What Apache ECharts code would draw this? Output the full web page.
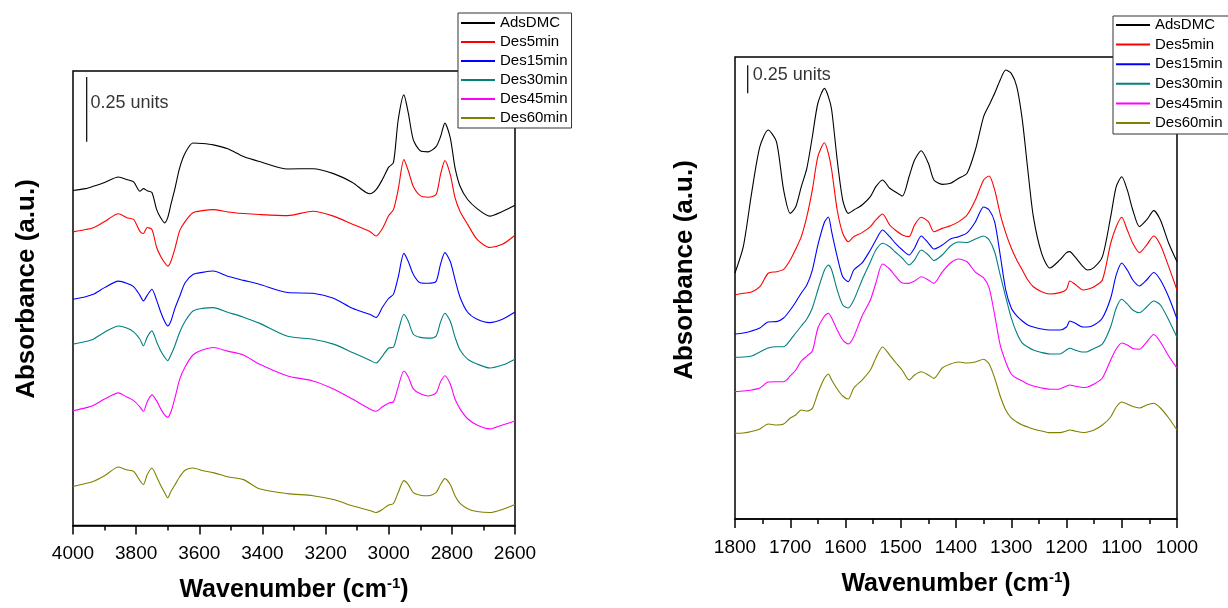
<!DOCTYPE html>
<html><head><meta charset="utf-8">
<script src="https://cdn.jsdelivr.net/npm/echarts@6/dist/echarts.min.js"></script>
<style>html,body{margin:0;padding:0;background:#fff}#c{width:1228px;height:608px}</style>
</head><body><div id="c"></div>
<script>
const FONT = '"Liberation Sans", Arial, sans-serif';
const seriesNames = ['AdsDMC','Des5min','Des15min','Des30min','Des45min','Des60min'];
const seriesColors = ['#000000','#ff0000','#0000ff','#008080','#ff00ff','#808000'];

// Left panel: O-H / C-H stretching region (cm-1), absorbance offsets (a.u.)
const ticksLeft = [4000,3800,3600,3400,3200,3000,2800,2600];
const waveLeft = [4000,3960,3936,3900,3856,3830,3808,3788,3777,3765,3750,3735,3722,3710,3700,3690,3678,3662,3645,3620,3590,3556,3510,3460,3410,3320,3240,3175,3115,3060,3040,3020,3000,2985,2970,2952,2938,2922,2900,2875,2850,2836,2822,2805,2790,2774,2750,2720,2680,2640,2600];
const leftAds = [1.293,1.300,1.309,1.324,1.345,1.335,1.326,1.290,1.300,1.292,1.285,1.219,1.187,1.168,1.188,1.238,1.296,1.381,1.437,1.476,1.474,1.469,1.454,1.424,1.405,1.376,1.377,1.358,1.324,1.280,1.296,1.335,1.383,1.400,1.565,1.662,1.592,1.488,1.446,1.442,1.462,1.500,1.553,1.496,1.381,1.309,1.258,1.223,1.194,1.212,1.236];
const leftDes5 = [1.133,1.142,1.149,1.173,1.203,1.188,1.181,1.135,1.127,1.150,1.142,1.073,1.038,1.015,1.001,1.019,1.065,1.138,1.173,1.207,1.215,1.219,1.210,1.204,1.200,1.196,1.213,1.194,1.163,1.135,1.117,1.146,1.196,1.219,1.296,1.412,1.369,1.308,1.273,1.267,1.277,1.354,1.408,1.354,1.265,1.212,1.162,1.104,1.073,1.085,1.120];
const leftDes15 = [0.873,0.883,0.892,0.918,0.943,0.935,0.922,0.888,0.867,0.888,0.912,0.869,0.823,0.788,0.770,0.788,0.835,0.885,0.937,0.969,0.977,0.982,0.962,0.946,0.931,0.899,0.896,0.877,0.838,0.815,0.803,0.842,0.877,0.892,0.958,1.050,1.019,0.969,0.937,0.935,0.942,1.008,1.053,1.019,0.950,0.881,0.823,0.796,0.783,0.796,0.824];
const leftDes30 = [0.700,0.710,0.719,0.746,0.770,0.762,0.747,0.719,0.693,0.727,0.751,0.708,0.673,0.650,0.636,0.658,0.692,0.746,0.788,0.828,0.838,0.841,0.823,0.804,0.781,0.730,0.719,0.700,0.668,0.638,0.627,0.654,0.685,0.688,0.750,0.815,0.788,0.738,0.726,0.723,0.731,0.785,0.819,0.788,0.727,0.677,0.642,0.623,0.608,0.619,0.642];
const leftDes45 = [0.443,0.454,0.463,0.488,0.512,0.496,0.482,0.458,0.440,0.477,0.504,0.481,0.450,0.427,0.418,0.438,0.488,0.565,0.612,0.658,0.677,0.687,0.673,0.658,0.623,0.577,0.558,0.527,0.488,0.450,0.441,0.458,0.473,0.477,0.535,0.596,0.573,0.527,0.508,0.500,0.512,0.554,0.578,0.546,0.488,0.450,0.412,0.388,0.373,0.388,0.403];
const leftDes60 = [0.151,0.162,0.170,0.192,0.226,0.215,0.209,0.173,0.158,0.196,0.222,0.188,0.154,0.127,0.107,0.131,0.155,0.188,0.213,0.222,0.212,0.204,0.188,0.177,0.142,0.123,0.115,0.100,0.076,0.058,0.050,0.062,0.079,0.085,0.127,0.173,0.158,0.127,0.117,0.115,0.127,0.158,0.181,0.158,0.115,0.085,0.065,0.054,0.050,0.062,0.081];
const leftScaleBar = [[3956.6,1.481],[3956.6,1.731]];
const leftScaleText = [3946,1.631];

// Right panel: fingerprint region (cm-1)
const ticksRight = [1800,1700,1600,1500,1400,1300,1200,1100,1000];
const waveRight = [1800,1785,1770,1755,1740,1725,1712,1700,1690,1680,1670,1660,1650,1638,1631,1625,1615,1605,1595,1585,1570,1555,1545,1533,1520,1510,1497,1485,1475,1463,1450,1440,1425,1410,1395,1380,1365,1350,1340,1330,1320,1310,1300,1290,1280,1270,1260,1245,1230,1212,1200,1194,1185,1170,1162,1150,1135,1120,1110,1100,1090,1080,1068,1055,1042,1030,1015,1000];
const rightAds = [2.196,2.431,2.908,3.324,3.473,3.369,2.938,2.729,2.788,2.967,3.131,3.413,3.712,3.845,3.771,3.652,3.205,2.848,2.729,2.759,2.804,2.878,2.967,3.027,2.953,2.922,2.884,3.056,3.205,3.288,3.176,3.027,2.988,2.997,3.042,3.087,3.295,3.592,3.696,3.801,3.920,4.009,3.979,3.860,3.563,3.116,2.699,2.372,2.241,2.313,2.378,2.387,2.342,2.253,2.223,2.247,2.342,2.699,2.967,3.056,2.938,2.759,2.610,2.670,2.753,2.670,2.462,2.297];
const rightDes5 = [2.000,2.015,2.027,2.074,2.194,2.208,2.229,2.313,2.411,2.521,2.699,2.938,3.235,3.360,3.265,3.116,2.759,2.551,2.476,2.521,2.557,2.610,2.670,2.723,2.625,2.580,2.536,2.521,2.625,2.694,2.655,2.565,2.595,2.619,2.655,2.714,2.848,3.027,3.063,2.938,2.723,2.554,2.420,2.313,2.223,2.134,2.074,2.030,2.009,2.021,2.051,2.125,2.098,2.045,2.051,2.074,2.134,2.462,2.610,2.694,2.580,2.462,2.378,2.446,2.527,2.446,2.253,2.045];
const rightDes15 = [1.652,1.661,1.679,1.705,1.759,1.762,1.795,1.866,1.938,2.018,2.089,2.223,2.446,2.652,2.696,2.563,2.342,2.163,2.119,2.223,2.286,2.402,2.491,2.580,2.521,2.464,2.402,2.357,2.420,2.527,2.464,2.411,2.446,2.500,2.521,2.554,2.652,2.786,2.759,2.652,2.357,2.045,1.884,1.813,1.768,1.732,1.714,1.696,1.688,1.688,1.714,1.768,1.750,1.714,1.714,1.732,1.795,1.973,2.179,2.286,2.223,2.134,2.080,2.134,2.201,2.134,1.982,1.786];
const rightDes30 = [1.444,1.446,1.455,1.491,1.527,1.538,1.538,1.598,1.661,1.723,1.786,1.884,2.045,2.223,2.268,2.223,2.045,1.911,1.884,1.955,2.134,2.295,2.402,2.462,2.431,2.384,2.328,2.268,2.313,2.402,2.357,2.308,2.357,2.438,2.473,2.469,2.500,2.527,2.491,2.384,2.179,1.982,1.795,1.661,1.571,1.536,1.509,1.487,1.473,1.473,1.509,1.524,1.509,1.491,1.494,1.522,1.563,1.717,1.884,1.962,1.920,1.866,1.842,1.893,1.946,1.911,1.777,1.622];
const rightDes45 = [1.137,1.143,1.152,1.170,1.223,1.226,1.226,1.277,1.330,1.411,1.455,1.500,1.705,1.813,1.837,1.795,1.688,1.598,1.563,1.628,1.813,1.955,2.107,2.277,2.232,2.170,2.107,2.104,2.125,2.163,2.134,2.104,2.205,2.286,2.321,2.297,2.205,2.152,2.063,1.821,1.554,1.402,1.295,1.256,1.232,1.205,1.188,1.170,1.158,1.161,1.188,1.196,1.188,1.174,1.179,1.205,1.259,1.420,1.518,1.571,1.554,1.522,1.515,1.580,1.647,1.580,1.455,1.346];
const rightDes60 = [0.765,0.768,0.781,0.804,0.848,0.839,0.848,0.902,0.929,0.973,0.964,0.988,1.125,1.259,1.295,1.241,1.161,1.098,1.071,1.170,1.241,1.330,1.438,1.536,1.464,1.402,1.326,1.241,1.286,1.315,1.286,1.256,1.348,1.384,1.402,1.393,1.402,1.426,1.384,1.259,1.098,0.973,0.902,0.866,0.839,0.821,0.804,0.786,0.771,0.771,0.786,0.795,0.786,0.772,0.777,0.795,0.839,0.911,1.000,1.045,1.027,1.004,0.991,1.018,1.033,0.991,0.902,0.795];
const rightScaleBar = [[1777,3.801],[1777,4.051]];
const rightScaleText = [1769,3.964];

const scaleLabel = '0.25 units';
const xTitle = '{a|Wavenumber (cm}{s|-1}{a|)}';
const yTitle = 'Absorbance (a.u.)';

const leftSets = [leftAds,leftDes5,leftDes15,leftDes30,leftDes45,leftDes60];
const rightSets = [rightAds,rightDes5,rightDes15,rightDes30,rightDes45,rightDes60];
const zip = (w, v) => w.map((x, i) => [x, v[i]]);

const series = [];
[[waveLeft, leftSets, 0], [waveRight, rightSets, 1]].forEach(([w, sets, idx]) => {
  sets.forEach((vals, k) => {
    series.push({
      type: 'line', name: seriesNames[k], xAxisIndex: idx, yAxisIndex: idx,
      data: zip(w, vals), symbol: 'none', showSymbol: false, smooth: 0.25,
      lineStyle: { color: seriesColors[k], width: 1.1 }, itemStyle: { color: seriesColors[k] },
      silent: true, z: 3
    });
  });
});
[[leftScaleBar, leftScaleText, 0], [rightScaleBar, rightScaleText, 1]].forEach(([bar, txt, idx]) => {
  series.push({ type: 'line', name: 'scale' + idx, xAxisIndex: idx, yAxisIndex: idx, data: bar,
    symbol: 'none', lineStyle: { color: '#000', width: 1.2 }, itemStyle: { color: '#000' }, silent: true, z: 3 });
  series.push({ type: 'scatter', name: 'scaleText' + idx, xAxisIndex: idx, yAxisIndex: idx, data: [txt],
    symbolSize: 1, itemStyle: { color: 'rgba(0,0,0,0)' }, silent: true, z: 4,
    label: { show: true, position: 'right', distance: 0, formatter: scaleLabel,
      fontSize: 18, color: '#000', fontFamily: FONT } });
});

function xAxis(idx, ticks, gap, margin) {
  const min = Math.min(...ticks), max = Math.max(...ticks);
  return {
    gridIndex: idx, type: 'value', inverse: true, min: min, max: max, interval: ticks[0] - ticks[1],
    axisLine: { show: true, lineStyle: { color: '#000', width: 1.5 } },
    axisTick: { show: true, inside: false, length: 9, lineStyle: { color: '#000', width: 1.5 } },
    minorTick: { show: true, splitNumber: 2, length: 5, lineStyle: { color: '#000', width: 1.5 } },
    axisLabel: { fontSize: 19, color: '#000', margin: margin, fontFamily: FONT,
      showMinLabel: true, showMaxLabel: true, formatter: v => String(v) },
    splitLine: { show: false },
    name: xTitle, nameLocation: 'middle', nameGap: gap,
    nameTextStyle: { rich: {
      a: { fontSize: 25, fontWeight: 'bold', fontFamily: FONT, color: '#000', lineHeight: 28 },
      s: { fontSize: 15, fontWeight: 'bold', fontFamily: FONT, color: '#000', verticalAlign: 'top', lineHeight: 28 }
    } }
  };
}
function yAxis(idx, max) {
  return { gridIndex: idx, type: 'value', min: 0, max: max,
    axisLine: { show: false }, axisTick: { show: false }, axisLabel: { show: false }, splitLine: { show: false } };
}
function legend(left, top, pad, gap) {
  return {
    data: seriesNames, orient: 'vertical', left: left, top: top, padding: pad, itemGap: gap,
    icon: 'rect', itemWidth: 34, itemHeight: 2, selectedMode: false,
    backgroundColor: '#fff', borderColor: '#333', borderWidth: 1,
    textStyle: { fontSize: 15, color: '#000', fontFamily: FONT, lineHeight: 16 }
  };
}

const chart = echarts.init(document.getElementById('c'));
chart.setOption({
  animation: false,
  backgroundColor: '#fff',
  grid: [
    { left: 73, top: 71, width: 442, height: 456, show: true, borderColor: '#000', borderWidth: 1.5 },
    { left: 735, top: 57, width: 442, height: 462, show: true, borderColor: '#000', borderWidth: 1.5 }
  ],
  xAxis: [xAxis(0, ticksLeft, 51, 19), xAxis(1, ticksRight, 51, 19)],
  yAxis: [yAxis(0, 1.754), yAxis(1, 4.125)],
  legend: [legend(458, 13, [2, 4, 2, 3], 3), legend(1113, 16, [1, 30, 3, 3], 3.6)],
  graphic: [
    { type: 'text', x: 27, y: 289, rotation: Math.PI / 2,
      style: { text: yTitle, font: 'bold 26px ' + FONT, fill: '#000', align: 'center', verticalAlign: 'middle' } },
    { type: 'text', x: 685, y: 270, rotation: Math.PI / 2,
      style: { text: yTitle, font: 'bold 26px ' + FONT, fill: '#000', align: 'center', verticalAlign: 'middle' } }
  ],
  series: series
});
</script></body></html>
